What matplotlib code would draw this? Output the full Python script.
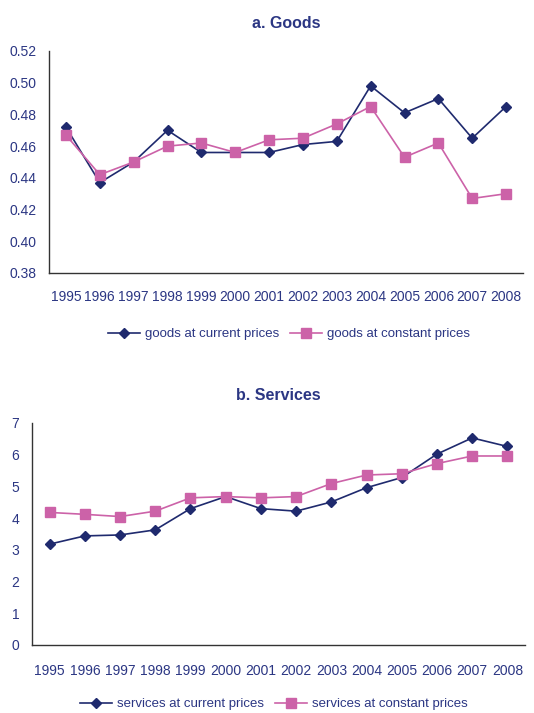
import numpy as np
import matplotlib
matplotlib.use('Agg')
import matplotlib.pyplot as plt

years = ['1995', '1996', '1997', '1998', '1999', '2000', '2001',
         '2002', '2003', '2004', '2005', '2006', '2007', '2008']

goods_current = [0.472, 0.437, 0.450, 0.470, 0.456, 0.456, 0.456,
                 0.461, 0.463, 0.498, 0.481, 0.490, 0.465, 0.485]
goods_constant = [0.467, 0.442, 0.450, 0.460, 0.462, 0.456, 0.464,
                  0.465, 0.474, 0.485, 0.453, 0.462, 0.427, 0.430]

services_current = [3.18, 3.44, 3.47, 3.63, 4.30, 4.68, 4.30,
                    4.22, 4.51, 4.96, 5.28, 6.02, 6.53, 6.26]
services_constant = [4.18, 4.12, 4.05, 4.22, 4.64, 4.68, 4.64,
                     4.68, 5.09, 5.36, 5.40, 5.72, 5.96, 5.96]

navy = '#1f2a6e'
pink = '#cc62a8'
txt = '#2b3683'

plt.rcParams['font.family'] = ['Liberation Sans Narrow', 'Liberation Sans', 'DejaVu Sans']

W, H = 534, 713
fig = plt.figure(figsize=(W / 100, H / 100), dpi=100)


def px_axes(left, top, right, bottom):
    return fig.add_axes([left / W, (H - bottom) / H, (right - left) / W, (bottom - top) / H])


def style(ax, ylim, yticks, yfmt, xpad):
    x = np.arange(len(years))
    ax.set_xlim(-0.5, len(years) - 0.5)
    ax.set_ylim(*ylim)
    ax.set_xticks(x)
    ax.set_xticklabels(years)
    ax.set_yticks(yticks)
    ax.set_yticklabels([yfmt.format(v) for v in yticks])
    for s in ['top', 'right']:
        ax.spines[s].set_visible(False)
    for s in ['left', 'bottom']:
        ax.spines[s].set_color('#333333')
        ax.spines[s].set_linewidth(1.0)
    ax.tick_params(axis='both', length=0, labelsize=10, colors=txt)
    ax.tick_params(axis='y', pad=9)
    ax.tick_params(axis='x', pad=xpad)


# a. Goods
ax1 = px_axes(49, 51, 523, 273)
x = np.arange(len(years))
ax1.plot(x, goods_current, color=navy, lw=1.2, marker='D', ms=5.5,
         label='goods at current prices', clip_on=False)
ax1.plot(x, goods_constant, color=pink, lw=1.2, marker='s', ms=7,
         label='goods at constant prices', clip_on=False)
style(ax1, (0.38, 0.52), np.arange(0.38, 0.5201, 0.02), '{:.2f}', 12.5)
fig.text(0.5 * (49 + 523) / W, (H - 24) / H, 'a. Goods', ha='center', va='center',
         fontsize=11.5, fontweight='bold', color=txt)
ax1.legend(loc='center', bbox_to_anchor=(289 / W, (H - 334) / H),
           bbox_transform=fig.transFigure, ncol=2, frameon=False,
           fontsize=9.5, labelcolor=txt, handlelength=2.4, columnspacing=0.8,
           handletextpad=0.4)

# b. Services
ax2 = px_axes(32, 423, 525, 645)
ax2.plot(x, services_current, color=navy, lw=1.2, marker='D', ms=5.5,
         label='services at current prices', clip_on=False)
ax2.plot(x, services_constant, color=pink, lw=1.2, marker='s', ms=7,
         label='services at constant prices', clip_on=False)
style(ax2, (0, 7), np.arange(0, 8, 1), '{:d}', 13.5)
fig.text(0.5 * (32 + 525) / W, (H - 396) / H, 'b. Services', ha='center', va='center',
         fontsize=11.5, fontweight='bold', color=txt)
ax2.legend(loc='center', bbox_to_anchor=(274 / W, (H - 704) / H),
           bbox_transform=fig.transFigure, ncol=2, frameon=False,
           fontsize=9.5, labelcolor=txt, handlelength=2.4, columnspacing=0.8,
           handletextpad=0.4)

fig.savefig('out.png', dpi=100)
